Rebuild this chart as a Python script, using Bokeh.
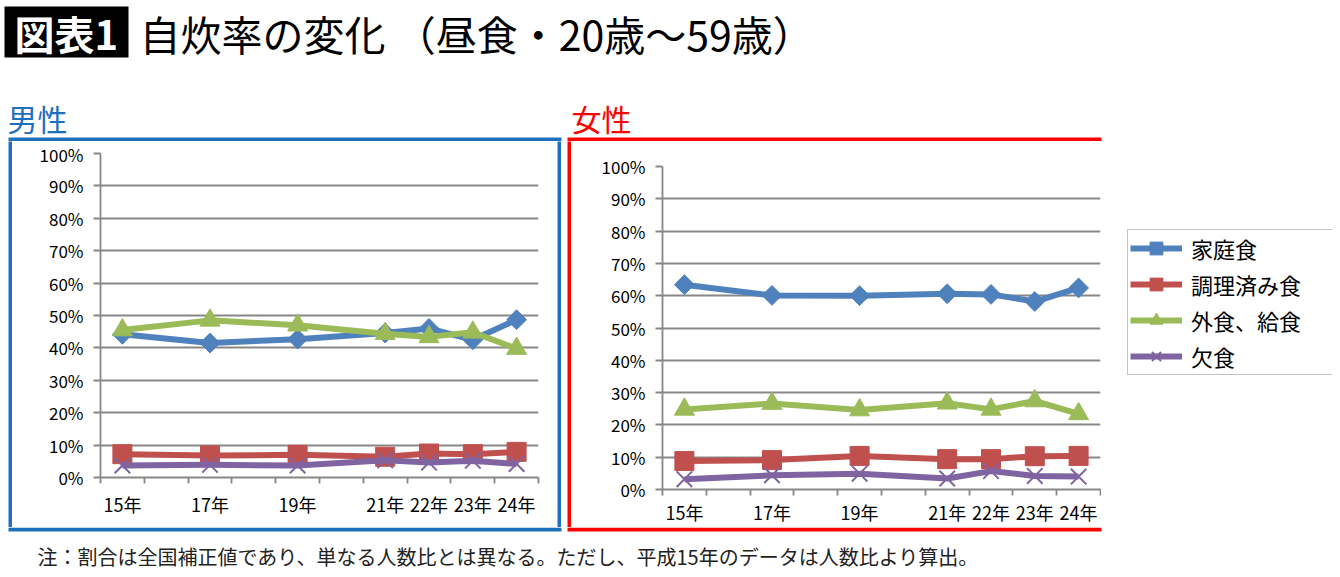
from bokeh.plotting import figure
from bokeh.layouts import column, row
from bokeh.models import (Range1d, FixedTicker, PrintfTickFormatter, Legend,
                          LegendItem, ColumnDataSource, Spacer)
from bokeh.core.properties import value
from bokeh.embed import file_html
from bokeh.resources import INLINE
from bokeh.core.validation import silence
from bokeh.core.validation.warnings import MISSING_RENDERERS
import numpy as np

silence(MISSING_RENDERERS, True)

# ---------------- data ----------------
years = [15, 17, 19, 21, 22, 23, 24]
year_labels = ["15年", "17年", "19年", "21年", "22年", "23年", "24年"]
slot_edges = [14.5, 15.5, 16.5, 17.5, 18.5, 19.5, 20.5, 21.5, 22.5, 23.5, 24.5]
y_ticks = [0, 10, 20, 30, 40, 50, 60, 70, 80, 90, 100]
series_names = ["家庭食", "調理済み食", "外食、給食", "欠食"]

male_home = [44.2, 41.5, 42.7, 44.6, 46.0, 42.5, 48.7]
male_prepared = [7.2, 6.8, 7.0, 6.4, 7.4, 7.2, 7.9]
male_eatout = [45.5, 48.5, 47.0, 44.4, 43.4, 44.8, 39.8]
male_skip = [3.7, 3.9, 3.7, 5.3, 4.6, 5.2, 4.2]

female_home = [63.4, 60.1, 60.0, 60.6, 60.4, 58.2, 62.4]
female_prepared = [8.8, 9.1, 10.4, 9.4, 9.4, 10.3, 10.4]
female_eatout = [24.8, 26.6, 24.6, 26.7, 24.8, 27.4, 23.4]
female_skip = [3.2, 4.4, 4.9, 3.4, 5.7, 4.2, 4.0]

title_tag = "図表1"
title_text = "自炊率の変化 （昼食・20歳〜59歳）"
male_label = "男性"
female_label = "女性"
footnote = "注：割合は全国補正値であり、単なる人数比とは異なる。ただし、平成15年のデータは人数比より算出。"

# ---------------- style ----------------
JP = "Noto Sans CJK JP"
GRID = "#878787"
BLUE_FRAME = "#1F6FBF"
RED_FRAME = "#FF0000"
COLORS = ["#4F81BD", "#C0504D", "#9BBB59", "#8064A2"]
MARKERS = ["diamond", "square", "triangle", "x"]
W = 1332


def add_series(p, xs, ys, color, marker):
    src = ColumnDataSource(dict(x=xs, y=ys))
    r1 = p.line("x", "y", source=src, line_color=color, line_width=6,
                line_join="round")
    if marker == "diamond":
        r2 = p.scatter("x", "y", source=src, marker="square", angle=np.pi / 4,
                       size=14, fill_color=color, line_color=color)
    elif marker == "square":
        r2 = p.scatter("x", "y", source=src, marker="square", size=19,
                       fill_color=color, line_color=color)
    elif marker == "triangle":
        r2 = p.scatter("x", "y", source=src, marker="triangle", size=20,
                       fill_color=color, line_color=color)
    else:
        r2 = p.scatter("x", "y", source=src, marker="x", size=22,
                       line_color=color, line_width=2)
    return r1, r2


def make_chart(width, height, bl, br, bt, bb, xstandoff, data):
    p = figure(width=width, height=height, x_range=Range1d(14.5, 24.5),
               y_range=Range1d(0, 100), toolbar_location=None, title=None,
               output_backend="svg", min_border_left=bl, min_border_right=br,
               min_border_top=bt, min_border_bottom=bb, frame_align=False,
               outline_line_color=None, background_fill_color="white",
               border_fill_color="white")
    p.xgrid.visible = False
    p.ygrid.ticker = FixedTicker(ticks=y_ticks)
    p.ygrid.grid_line_color = GRID
    p.ygrid.grid_line_width = 1.8

    ya = p.yaxis[0]
    ya.ticker = FixedTicker(ticks=y_ticks)
    ya.formatter = PrintfTickFormatter(format="%d%%")
    ya.axis_line_color = GRID
    ya.axis_line_width = 1.8
    ya.major_tick_line_color = GRID
    ya.major_tick_line_width = 1.8
    ya.major_tick_out = 7
    ya.major_tick_in = 0
    ya.minor_tick_line_color = None
    ya.major_label_standoff = 10
    ya.major_label_text_font = JP
    ya.major_label_text_font_size = "17px"
    ya.major_label_text_color = "#000000"

    xa = p.xaxis[0]
    xa.ticker = FixedTicker(ticks=years, minor_ticks=slot_edges)
    xa.major_label_overrides = dict(zip(years, year_labels))
    xa.axis_line_color = GRID
    xa.axis_line_width = 1.8
    xa.major_tick_line_color = None
    xa.major_tick_out = 0
    xa.major_tick_in = 0
    xa.minor_tick_line_color = GRID
    xa.minor_tick_line_width = 1.8
    xa.minor_tick_out = 6
    xa.minor_tick_in = 0
    xa.major_label_standoff = xstandoff
    xa.major_label_text_font = JP
    xa.major_label_text_font_size = "18px"
    xa.major_label_text_line_height = 1.0
    xa.major_label_text_color = "#000000"

    for vals, color, marker in zip(data, COLORS, MARKERS):
        add_series(p, years, vals, color, marker)
    return p


def vbar_fig(w, h, color):
    b = figure(width=w, height=h, toolbar_location=None, output_backend="svg",
               min_border=0, background_fill_color=color, title=None,
               border_fill_color=color, outline_line_color=None,
               x_axis_location=None, y_axis_location=None, frame_align=False,
               x_range=Range1d(0, 1), y_range=Range1d(0, 1))
    b.grid.visible = False
    return b


def canvas(h, y0, y1):
    c = figure(width=W, height=h, toolbar_location=None, output_backend="svg",
               min_border=0, outline_line_color=None, x_axis_location=None,
               y_axis_location=None, x_range=Range1d(0, W), title=None,
               y_range=Range1d(y1, y0), frame_align=False)
    c.grid.visible = False
    return c


# ---------------- header (page y 0..141) ----------------
header = canvas(141, 0, 141)
header.quad(left=[4], right=[128], top=[6], bottom=[57], fill_color="#000000",
            line_color=None)
header.text(x=[14], y=[32], text=[title_tag], text_color="#FFFFFF",
            text_font=value(JP), text_font_size="40px", text_font_style="bold",
            text_baseline="middle", text_align="left")
header.text(x=[139], y=[32], text=[title_text], text_color="#000000",
            text_font=value(JP), text_font_size="41px",
            text_baseline="middle", text_align="left")
header.text(x=[7], y=[117], text=[male_label], text_color=BLUE_FRAME,
            text_font=value(JP), text_font_size="30px",
            text_baseline="middle", text_align="left")
header.text(x=[571], y=[117], text=[female_label], text_color=RED_FRAME,
            text_font=value(JP), text_font_size="30px",
            text_baseline="middle", text_align="left")
# top edges of the two panel frames
header.quad(left=[8, 567], right=[561, 1101], top=[137, 137], bottom=[141, 141],
            fill_color=[BLUE_FRAME, RED_FRAME], line_color=None)

# ---------------- charts (page y 141..527) ----------------
left_chart = make_chart(545, 386, 88, 19, 12, 50, 7,
                        [male_home, male_prepared, male_eatout, male_skip])
right_chart = make_chart(530, 386, 91, 1, 25, 37, 3,
                         [female_home, female_prepared, female_eatout, female_skip])

# ---------------- legend ----------------
lg = figure(width=231, height=386, toolbar_location=None, output_backend="svg",
            min_border=0, min_border_left=26, min_border_top=88, title=None,
            outline_line_color=None, x_axis_location=None, frame_align=False,
            y_axis_location=None, x_range=Range1d(0, 1), y_range=Range1d(0, 1))
lg.grid.visible = False
items = []
for name, vals, color, marker in zip(series_names,
                                     [female_home, female_prepared, female_eatout, female_skip],
                                     COLORS, MARKERS):
    r1, r2 = add_series(lg, years, vals, color, marker)
    items.append(LegendItem(label=name, renderers=[r1, r2]))
legend = Legend(items=items, location="top_left", glyph_width=52,
                glyph_height=32, label_standoff=9, spacing=4, padding=2,
                margin=0, label_width=139, label_text_font=JP,
                label_text_font_size="22px", label_text_color="#000000",
                border_line_color=GRID, border_line_width=1.5,
                background_fill_color="white", background_fill_alpha=1.0)
lg.add_layout(legend)

mid = row(Spacer(width=8, height=386),
          vbar_fig(4, 386, BLUE_FRAME), left_chart, vbar_fig(4, 386, BLUE_FRAME),
          Spacer(width=6, height=386),
          vbar_fig(4, 386, RED_FRAME), right_chart, lg)

# ---------------- footer (page y 527..573) ----------------
footer = canvas(46, 527, 573)
footer.quad(left=[8, 567], right=[561, 1101], top=[527, 527], bottom=[531, 531],
            fill_color=[BLUE_FRAME, RED_FRAME], line_color=None)
footer.text(x=[37], y=[556], text=[footnote], text_color="#222222",
            text_font=value(JP), text_font_size="20px",
            text_baseline="middle", text_align="left")

page = column(header, mid, footer)
open("out.html", "w").write(file_html(page, INLINE, title="自炊率の変化"))
